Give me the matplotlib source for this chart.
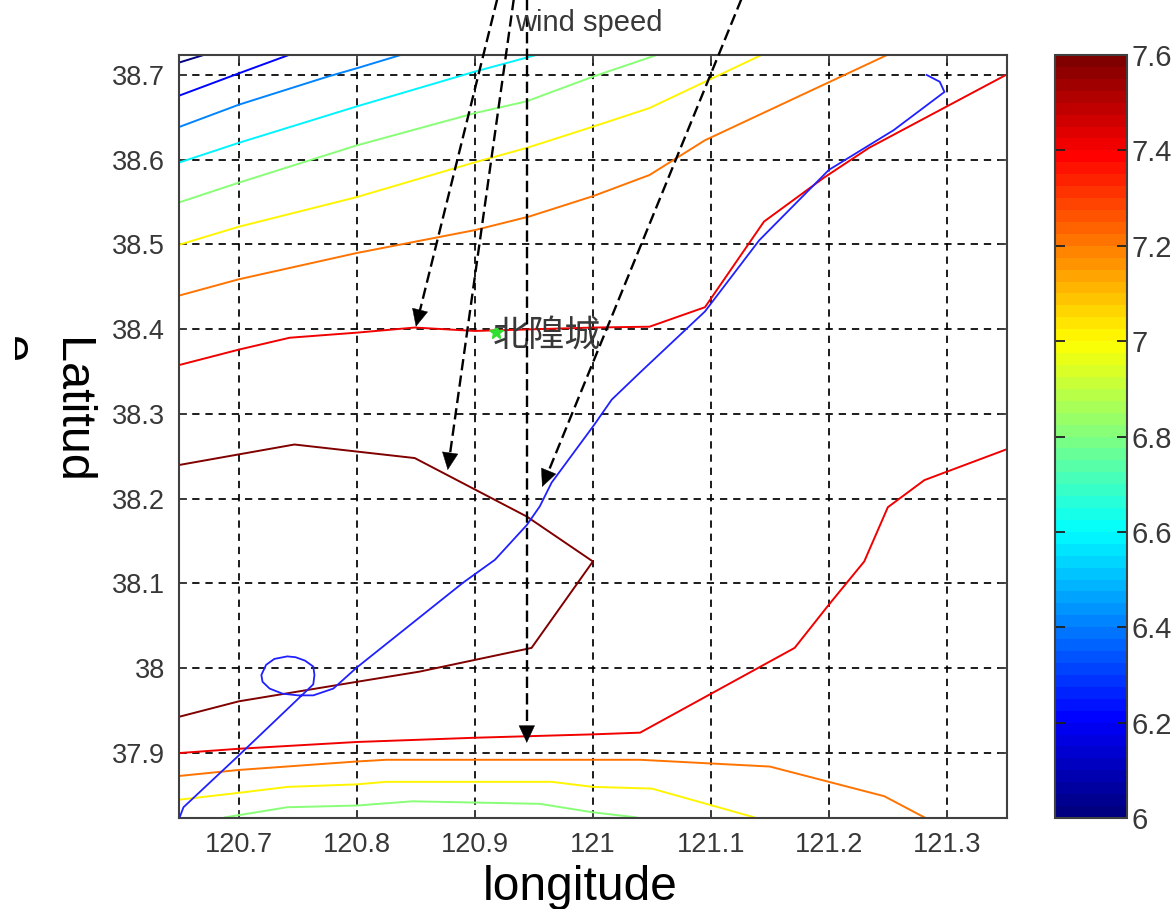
import matplotlib
matplotlib.use('Agg')
import numpy as np
from matplotlib import pyplot as plt
from matplotlib.cm import ScalarMappable
from matplotlib.colors import LinearSegmentedColormap, Normalize
from matplotlib.transforms import Bbox

plt.rcParams['font.family'] = ['Liberation Sans', 'Noto Sans CJK SC', 'DejaVu Sans']

# Контуры скорости ветра: уровень -> (долгота, широта)
level_60_lon = [120.65, 120.671]
level_60_lat = [38.715, 38.724]
level_62_lon = [120.65, 120.70, 120.743]
level_62_lat = [38.676, 38.702, 38.724]
level_64_lon = [120.65, 120.70, 120.775, 120.80, 120.838]
level_64_lat = [38.639, 38.665, 38.698, 38.708, 38.724]
level_66_lon = [120.65, 120.70, 120.80, 120.90, 120.953]
level_66_lat = [38.597, 38.62, 38.663, 38.704, 38.724]
level_68_lon = [120.65, 120.70, 120.80, 120.90, 120.944, 121.0, 121.057]
level_68_lat = [38.55, 38.573, 38.617, 38.655, 38.669, 38.698, 38.725]
level_68b_lon = [120.688, 120.741, 120.80, 120.847, 120.955, 121.0, 121.037]
level_68b_lat = [37.824, 37.836, 37.838, 37.843, 37.84, 37.83, 37.824]
level_70_lon = [120.65, 120.70, 120.80, 120.90, 120.944, 121.0, 121.048, 121.145]
level_70_lat = [38.50, 38.521, 38.556, 38.597, 38.614, 38.639, 38.661, 38.725]
level_70b_lon = [120.65, 120.70, 120.741, 120.80, 120.825, 120.90, 120.965, 121.0, 121.05, 121.137]
level_70b_lat = [37.845, 37.853, 37.86, 37.863, 37.866, 37.866, 37.866, 37.86, 37.858, 37.824]
level_72_lon = [120.65, 120.70, 120.80, 120.90, 120.946, 121.0, 121.048, 121.095, 121.25]
level_72_lat = [38.44, 38.459, 38.49, 38.517, 38.533, 38.557, 38.582, 38.623, 38.724]
level_72b_lon = [120.65, 120.70, 120.80, 120.825, 121.04, 121.15, 121.247, 121.281]
level_72b_lat = [37.873, 37.88, 37.89, 37.892, 37.892, 37.884, 37.849, 37.824]
level_74_lon = [120.65, 120.70, 120.743, 120.80, 120.849, 120.90, 121.0, 121.048, 121.095, 121.145, 121.196, 121.234, 121.35]
level_74_lat = [38.358, 38.376, 38.39, 38.396, 38.402, 38.398, 38.402, 38.403, 38.426, 38.527, 38.579, 38.614, 38.70]
level_74b_lon = [120.65, 120.70, 120.80, 120.90, 121.0, 121.04, 121.171, 121.2, 121.23, 121.25, 121.281, 121.35]
level_74b_lat = [37.90, 37.905, 37.913, 37.918, 37.922, 37.924, 38.024, 38.075, 38.126, 38.19, 38.222, 38.258]
level_76_lon = [120.65, 120.747, 120.849, 120.944, 121.0, 120.948, 120.853, 120.80, 120.70, 120.65]
level_76_lat = [38.240, 38.264, 38.248, 38.179, 38.126, 38.024, 37.996, 37.984, 37.961, 37.943]

# Трек
track_lon = [120.650, 120.653, 120.699, 120.754, 120.763, 120.764, 120.763, 120.756, 120.748, 120.741,
             120.730, 120.723, 120.719, 120.720, 120.726, 120.737, 120.750, 120.763, 120.780, 120.800,
             120.890, 120.917, 120.944, 120.955, 120.965, 121.001, 121.016, 121.040, 121.095, 121.141,
             121.200, 121.255, 121.298, 121.294, 121.283]
track_lat = [37.825, 37.836, 37.896, 37.969, 37.981, 37.992, 38.002, 38.009, 38.013, 38.014,
             38.011, 38.004, 37.992, 37.984, 37.976, 37.970, 37.968, 37.968, 37.976, 38.001,
             38.101, 38.128, 38.169, 38.191, 38.219, 38.287, 38.317, 38.349, 38.421, 38.505,
             38.588, 38.635, 38.680, 38.692, 38.70]

# Стрелки ветра: начало (выше области осей) и острие
arrow_start_lon = [120.919, 120.933, 120.944, 121.126]
arrow_start_lat = [38.79, 38.79, 38.79, 38.79]
arrow_tip_lon = [120.85, 120.877, 120.944, 120.957]
arrow_tip_lat = [38.403, 38.234, 37.912, 38.214]

station_lon = 120.918
station_lat = 38.397
station_name = '北隍城'

x_ticks = [120.7, 120.8, 120.9, 121, 121.1, 121.2, 121.3]
x_tick_labels = ['120.7', '120.8', '120.9', '121', '121.1', '121.2', '121.3']
y_ticks = [37.9, 38, 38.1, 38.2, 38.3, 38.4, 38.5, 38.6, 38.7]
y_tick_labels = ['37.9', '38', '38.1', '38.2', '38.3', '38.4', '38.5', '38.6', '38.7']
cbar_ticks = [6, 6.2, 6.4, 6.6, 6.8, 7, 7.2, 7.4, 7.6]
cbar_tick_labels = ['6', '6.2', '6.4', '6.6', '6.8', '7', '7.2', '7.4', '7.6']

contours = [
    (6.0, level_60_lon, level_60_lat),
    (6.2, level_62_lon, level_62_lat),
    (6.4, level_64_lon, level_64_lat),
    (6.6, level_66_lon, level_66_lat),
    (6.8, level_68_lon, level_68_lat),
    (6.8, level_68b_lon, level_68b_lat),
    (7.0, level_70_lon, level_70_lat),
    (7.0, level_70b_lon, level_70b_lat),
    (7.2, level_72_lon, level_72_lat),
    (7.2, level_72b_lon, level_72b_lat),
    (7.4, level_74_lon, level_74_lat),
    (7.4, level_74b_lon, level_74b_lat),
    (7.6, level_76_lon, level_76_lat),
]

W, H = 1171, 909
TEXT_GRAY = '#383838'
FRAME_GRAY = '#404040'
HEAD_PX = 17


def px_axes(left, top, right, bottom):
    return [left / W, 1 - bottom / H, (right - left) / W, (bottom - top) / H]


fig = plt.figure(figsize=(W / 100, H / 100), dpi=100)
ax = fig.add_axes(px_axes(179, 55, 1007, 818))
# jet как в MATLAB, 64 цвета
cmap = LinearSegmentedColormap.from_list('matlab_jet', [
    (0, (0, 0, 0.5)), (0.125, (0, 0, 1)), (0.375, (0, 1, 1)),
    (0.625, (1, 1, 0)), (0.875, (1, 0, 0)), (1, (0.5, 0, 0))], N=64)
norm = Normalize(6, 7.6)

ax.set_xlim(120.6492, 121.351)
ax.set_ylim(37.8233, 38.7236)

# Контуры
for level, lon, lat in contours:
    ax.plot(lon, lat, color=cmap(norm(level)), linewidth=1.4, zorder=2)

# Трек и станция
ax.plot(track_lon, track_lat, color='#2020ff', linewidth=1.3, zorder=3)
ax.plot(station_lon, station_lat, marker='*', color='#30e030', markersize=10, zorder=3)
ax.text(120.961, station_lat - 0.006, station_name, fontsize=26, color=TEXT_GRAY,
        ha='center', va='center', zorder=4)

# Стрелки: пунктир отдельно, наконечник отдельно
for i in range(len(arrow_tip_lon)):
    tip = ax.transData.transform((arrow_tip_lon[i], arrow_tip_lat[i]))
    start = ax.transData.transform((arrow_start_lon[i], arrow_start_lat[i]))
    u = (tip - start) / np.linalg.norm(tip - start)
    tail = ax.transData.inverted().transform(tip - HEAD_PX * u)
    ax.plot([arrow_start_lon[i], tail[0]], [arrow_start_lat[i], tail[1]], color='black',
            linewidth=1.7, linestyle=(0, (4.8, 2.2)), clip_on=False, zorder=5)
    ax.annotate('', xy=(arrow_tip_lon[i], arrow_tip_lat[i]), xytext=tail, zorder=5,
                annotation_clip=False,
                arrowprops=dict(arrowstyle='-|>,head_length=12,head_width=5.6', mutation_scale=1,
                                color='black', linewidth=0.3, shrinkA=0, shrinkB=0))

# Сетка и оси
ax.grid(True, color='black', linestyle=(0, (4.2, 3.4)), linewidth=1.25)
ax.set_axisbelow(True)
ax.set_xticks(x_ticks, x_tick_labels)
ax.set_yticks(y_ticks, y_tick_labels)
ax.tick_params(direction='in', top=True, right=True, length=6, width=1.3, color=FRAME_GRAY,
               labelsize=19.5, labelcolor=TEXT_GRAY)
ax.tick_params(axis='x', pad=10)
ax.tick_params(axis='y', pad=10)
for spine in ax.spines.values():
    spine.set_color(FRAME_GRAY)
    spine.set_linewidth(1.5)

# Цветовая шкала
cax = fig.add_axes(px_axes(1055, 55, 1127, 818))
cbar = fig.colorbar(ScalarMappable(norm=norm, cmap=cmap), cax=cax, ticks=cbar_ticks)
cbar.ax.set_yticklabels(cbar_tick_labels)
cbar.ax.tick_params(direction='in', left=True, right=True, length=7, width=1.3, color='#202020',
                    labelsize=21, labelcolor=TEXT_GRAY, pad=3)
cbar.outline.set_edgecolor(FRAME_GRAY)
cbar.outline.set_linewidth(1.5)

# Подписи
fig.text(580 / W, 1 - 887 / H, 'longitude', fontsize=34.5, color='black', ha='center', va='center')
fig.text(70 / W, 1 - 411 / H, 'Latitud', fontsize=35, color='black', rotation=270, ha='center', va='center')
clip_e = fig.text(11 / W, 1 - 350 / H, 'e', fontsize=35, color='black', rotation=270, ha='center', va='center')
clip_e.set_clip_box(Bbox.from_extents(15, 0, 40, H))
clip_e.set_clip_on(True)
fig.text(589 / W, 1 - 23 / H, 'wind speed', fontsize=21, color=TEXT_GRAY, ha='center', va='center')

fig.savefig('out.png', dpi=100)
plt.close(fig)
